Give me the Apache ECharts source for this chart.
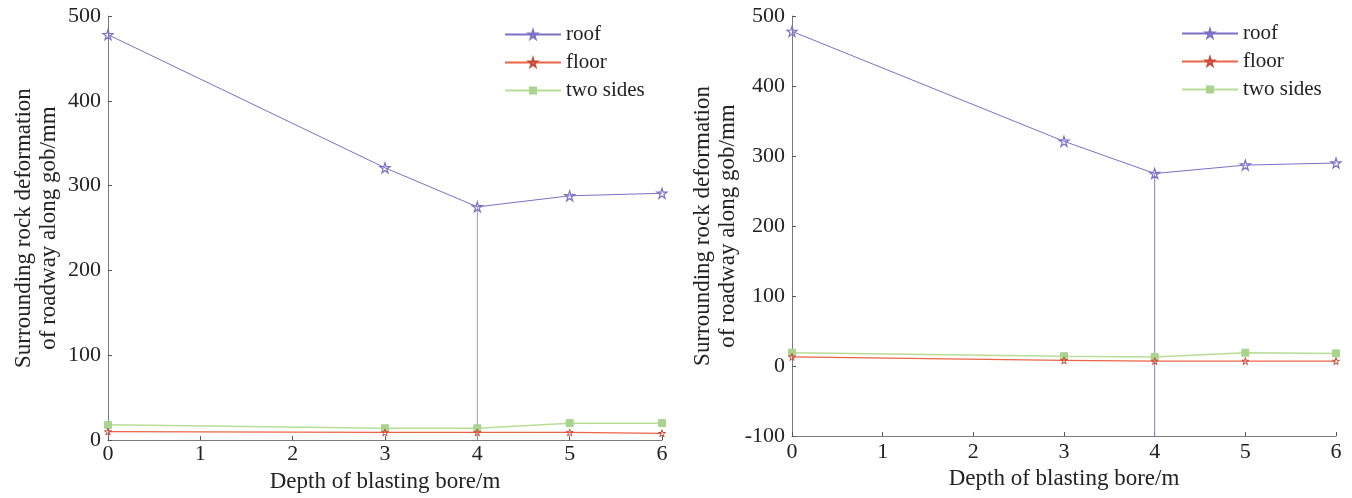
<!DOCTYPE html>
<html><head><meta charset="utf-8">
<script src="https://cdn.jsdelivr.net/npm/echarts@6/dist/echarts.min.js"></script>
<style>html,body{margin:0;padding:0;background:#fff}#c{width:1352px;height:498px}</style>
</head><body><div id="c"></div>
<script>
const depth = [0, 3, 4, 5, 6];
const xTicks = [0, 1, 2, 3, 4, 5, 6];
const roofA = [478, 321, 275, 288, 291];
const floorA = [10, 9, 9, 9, 8];
const sidesA = [18, 14, 14, 20, 20];
const roofB = [478, 321, 275, 287, 290];
const floorB = [13, 8, 7, 7, 7];
const sidesB = [19, 14, 13, 19, 18];
const yRangeA = [0, 500];
const yRangeB = [-100, 500];
const yTitle = 'Surrounding rock deformation\nof roadway along gob/mm';
const xTitle = 'Depth of blasting bore/m';
const names = ['roof', 'floor', 'two sides'];

const FONT = 'Liberation Serif';
const C_ROOF = '#7c70c6', C_FLOOR = '#ec6446', C_SIDES = '#b9dd96';
const STAR = 'path://M50,0 L61,35 L98,35 L68,57 L79,91 L50,70 L21,91 L32,57 L2,35 L39,35 Z';

function pairs(v) { return depth.map((d, i) => [d, v[i]]); }

function axesFor(idx, yr, xMargin, xGap, yGap) {
  const axisLine = { show: true, onZero: false, lineStyle: { color: '#7a7a7a', width: 1 } };
  const tick = { show: true, inside: true, length: 4, lineStyle: { color: '#555' } };
  return {
    x: {
      type: 'value', gridIndex: idx, min: xTicks[0], max: xTicks[xTicks.length - 1], interval: 1,
      axisLine, axisTick: tick, splitLine: { show: false },
      axisLabel: { fontFamily: FONT, fontSize: 22, color: '#222', margin: xMargin },
      name: xTitle, nameLocation: 'middle', nameGap: xGap,
      nameTextStyle: { fontFamily: FONT, fontSize: 23, color: '#222' }
    },
    y: {
      type: 'value', gridIndex: idx, min: yr[0], max: yr[1], interval: 100,
      axisLine, axisTick: tick, splitLine: { show: false },
      axisLabel: { fontFamily: FONT, fontSize: 22, color: '#222', margin: 7 },
      name: yTitle, nameLocation: 'middle', nameRotate: 90, nameGap: yGap,
      nameTextStyle: { fontFamily: FONT, fontSize: 23, color: '#222', lineHeight: 25 }
    }
  };
}
const a0 = axesFor(0, yRangeA, 3, 25, 47), a1 = axesFor(1, yRangeB, 5, 29, 51);

function seriesFor(idx, roof, floor, sides, yr, dropColor) {
  return [
    { name: names[0], type: 'line', xAxisIndex: idx, yAxisIndex: idx, data: pairs(roof),
      symbol: STAR, symbolSize: 10, lineStyle: { color: C_ROOF, width: 1 },
      itemStyle: { color: 'rgba(255,255,255,0)', borderColor: C_ROOF, borderWidth: 1.2 }, z: 3 },
    { name: 'drop', type: 'line', xAxisIndex: idx, yAxisIndex: idx,
      data: [[depth[2], roof[2]], [depth[2], yr[0]]], symbol: 'none',
      lineStyle: { color: dropColor, width: 1 }, z: 2 },
    { name: names[1], type: 'line', xAxisIndex: idx, yAxisIndex: idx, data: pairs(floor),
      symbol: STAR, symbolSize: 7, lineStyle: { color: C_FLOOR, width: 1.2 },
      itemStyle: { color: 'rgba(255,255,255,0)', borderColor: '#c84a3a', borderWidth: 1 }, z: 3 },
    { name: names[2], type: 'line', xAxisIndex: idx, yAxisIndex: idx, data: pairs(sides),
      symbol: 'rect', symbolSize: 7, lineStyle: { color: C_SIDES, width: 1.5 },
      itemStyle: { color: '#a9d38f', borderColor: '#a9d38f' }, z: 2 }
  ];
}

function legendFor(left, top) {
  return {
    left, top, orient: 'vertical', itemWidth: 56, itemHeight: 10, itemGap: 7, padding: 0,
    data: names, textStyle: { fontFamily: FONT, fontSize: 21, color: '#222' },
    selectedMode: false
  };
}

const chart = echarts.init(document.getElementById('c'), null, { renderer: 'canvas' });
chart.setOption({
  animation: false,
  backgroundColor: '#fff',
  grid: [
    { left: 108, top: 16, width: 554, height: 425 },
    { left: 792, top: 16, width: 544, height: 420 }
  ],
  xAxis: [a0.x, a1.x],
  yAxis: [a0.y, a1.y],
  legend: [legendFor(504, 24), legendFor(1181, 23)],
  series: [
    ...seriesFor(0, roofA, floorA, sidesA, yRangeA, '#a79cb2'),
    ...seriesFor(1, roofB, floorB, sidesB, yRangeB, '#8a7ec4')
  ]
});
</script></body></html>
